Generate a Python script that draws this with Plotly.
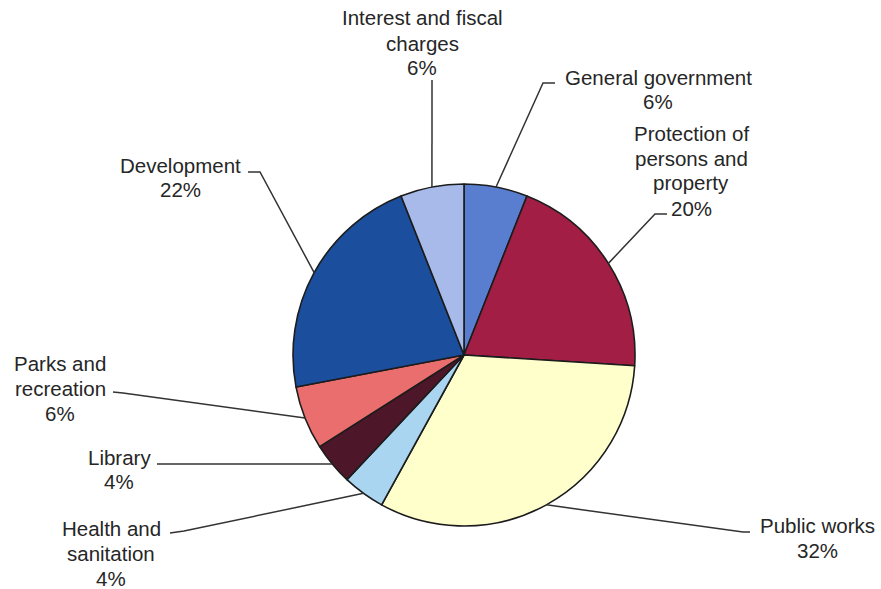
import math
import plotly.graph_objects as go

# Expenditure shares by function, clockwise from 12 o'clock
categories = [
    "General government",
    "Protection of persons and property",
    "Public works",
    "Health and sanitation",
    "Library",
    "Parks and recreation",
    "Development",
    "Interest and fiscal charges",
]
shares = [6, 20, 32, 4, 4, 6, 22, 6]
colors = ["#5a7ecf", "#a31e45", "#ffffcc", "#a9d5f1",
          "#4e1629", "#ea6e6d", "#1b4f9e", "#a7bae9"]

# How each category name wraps in its label
name_lines = {
    "General government": ["General government"],
    "Protection of persons and property": ["Protection of", "persons and", "property"],
    "Public works": ["Public works"],
    "Health and sanitation": ["Health and", "sanitation"],
    "Library": ["Library"],
    "Parks and recreation": ["Parks and", "recreation"],
    "Development": ["Development"],
    "Interest and fiscal charges": ["Interest and fiscal", "charges"],
}

# Page geometry (pixels, origin top-left)
W, H = 881, 589
CX, CY, R = 464, 355, 171
LINE_STEP = 25
FONT = dict(family="Liberation Sans, Arial, sans-serif", size=20.5, color="#262626")

# Label placement: text centre x, first-line y, and leader route after the slice edge
label_layout = {
    "General government": dict(x=658, y=77, route=[(543, 83), (555, 83)]),
    "Protection of persons and property": dict(x=691, y=133, route=[(655, 214), (667, 214)]),
    "Public works": dict(x=817, y=525, route=[(743, 532), (750, 532)]),
    "Health and sanitation": dict(x=111, y=528, route=[(184, 531), (170, 533)]),
    "Library": dict(x=119, y=457, route=[(157, 464)]),
    "Parks and recreation": dict(x=60, y=363, route=[(123, 393), (113, 392)]),
    "Development": dict(x=180, y=165, route=[(260, 172), (248, 172)]),
    "Interest and fiscal charges": dict(x=422, y=18, route=[(432, 80)]),
}


def px(x, y):
    return x / W, 1 - y / H


fig = go.Figure(
    go.Pie(
        labels=categories,
        values=shares,
        sort=False,
        direction="clockwise",
        rotation=0,
        marker=dict(colors=colors, line=dict(color="#1c1c1c", width=1.6)),
        textinfo="none",
        hoverinfo="label+percent",
        showlegend=False,
        domain=dict(x=[(CX - R) / W, (CX + R) / W],
                    y=[1 - (CY + R) / H, 1 - (CY - R) / H]),
    )
)

shapes = []
annotations = []
total = sum(shares)
cum = 0
for name, v in zip(categories, shares):
    mid = (cum + v / 2) / total
    cum += v
    theta = 2 * math.pi * mid
    sx, sy = CX + R * math.sin(theta), CY - R * math.cos(theta)
    spec = label_layout[name]
    pts = [(sx, sy)] + spec["route"]
    path = "M " + " L ".join(f"{px(x, y)[0]:.5f},{px(x, y)[1]:.5f}" for x, y in pts)
    shapes.append(dict(type="path", path=path, xref="paper", yref="paper",
                       line=dict(color="#333333", width=1.5)))
    lines = name_lines[name] + [f"{v}%"]
    for i, text in enumerate(lines):
        ax, ay = px(spec["x"], spec["y"] + i * LINE_STEP)
        annotations.append(dict(text=text, x=ax, y=ay, xref="paper", yref="paper",
                                xanchor="center", yanchor="middle",
                                showarrow=False, font=FONT))

fig.update_layout(
    width=W,
    height=H,
    margin=dict(l=0, r=0, t=0, b=0),
    paper_bgcolor="white",
    plot_bgcolor="white",
    shapes=shapes,
    annotations=annotations,
)

fig.write_html("out.html")
